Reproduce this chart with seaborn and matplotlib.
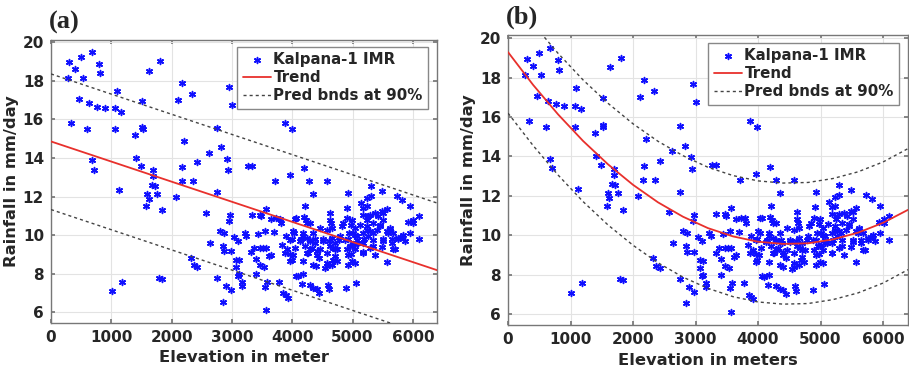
import numpy as np
import pandas as pd
import seaborn as sns
import matplotlib
matplotlib.use("Agg")
import matplotlib.pyplot as plt

# observed points (elevation in m, rainfall in mm/day), same set used in both panels
elevation = [
    305, 277, 393, 499, 676, 792, 809, 526, 460, 332, 637, 604, 765, 898, 1064, 1092, 1163, 1064,
    676, 709, 1125, 1014, 1180, 1512, 1512, 1525, 1385, 1413, 1485, 1629, 1806, 1690, 1690, 1668,
    1717, 1596, 1623, 1579, 1756, 1834, 1789, 1845, 2078, 2105, 2177, 2200, 2343, 2177, 2166, 2355,
    2427, 2620, 2576, 2632, 2316, 2371, 2427, 2759, 2825, 2925, 2936, 2759, 2953, 3003, 2753, 2853,
    2898, 2981, 2975, 2953, 2798, 2870, 2853, 2870, 2981, 3036, 3102, 3075, 3114, 3075, 3119, 3102,
    3169, 3175, 3269, 3335, 3213, 3241, 3324, 3374, 3435, 3407, 3468, 3407, 3335, 3474, 3485, 3546,
    3518, 3474, 3562, 3535, 3546, 3585, 3573, 3573, 3712, 3640, 3695, 3729, 3646, 3618, 3795, 3812,
    3778, 3834, 3850, 3895, 3922, 3878, 3989, 3961, 3889, 3917, 3961, 3989, 4006, 4028, 3989, 4039,
    4061, 4100, 4155, 4183, 4199, 4211, 4199, 4227, 4282, 4349, 4288, 4183, 4238, 4144, 4288, 4371,
    4299, 4260, 4404, 4449, 4393, 4288, 4349, 4404, 4449, 4543, 4582, 4582, 4626, 4626, 4654, 4571,
    4515, 4615, 4670, 4681, 4654, 4598, 4615, 4709, 4748, 4781, 4792, 4848, 4903, 4914, 4931, 4886,
    4931, 4970, 4959, 4931, 4947, 4970, 5042, 5058, 5014, 5069, 5097, 5136, 5180, 5197, 5180, 5235,
    5235, 5247, 5235, 5263, 5302, 5302, 5291, 5335, 5346, 5374, 5429, 5457, 5485, 5512, 5568, 5568,
    5512, 5485, 5596, 5623, 5651, 5706, 5734, 5817, 5956, 5928, 6011, 6094, 5956, 6094, 5817, 5873,
    5762,
    4060, 4238, 4637, 4986, 4820, 4459, 4348, 4182, 3961, 4127, 4293, 4376, 4515, 4653, 4709, 4875,
    5041, 4044, 4210, 4321, 4459, 4625, 4903, 5069, 3877, 4015, 4238, 4404, 4570, 4709, 4929, 3961,
    4182, 4348, 4570, 4737, 4986,
    5179, 5262, 5373, 5484, 5512, 5456, 5345, 5235, 5124, 5041, 5013, 5179, 5290, 5401, 5567, 5677,
    5622, 5760, 5843, 6010, 5069, 5179, 5345, 5512, 5650, 5041, 5179, 5290, 5677, 4986,
]
rainfall = [
    18.97, 18.14, 18.60, 19.24, 19.50, 18.88, 18.41, 18.14, 17.05, 15.81, 16.83, 15.50, 16.66, 16.57,
    16.57, 17.48, 16.40, 15.50, 13.88, 13.40, 12.36, 7.09, 7.55, 16.97, 15.60, 15.50, 15.17, 14.00,
    13.59, 18.53, 19.02, 13.36, 13.05, 12.62, 12.57, 12.16, 11.90, 11.50, 12.16, 11.29, 7.79, 7.71,
    11.98, 17.02, 17.88, 14.90, 17.31, 13.53, 12.83, 12.79, 13.79, 14.26, 11.16, 9.62, 8.83, 8.43,
    8.34, 15.57, 14.55, 13.95, 13.36, 12.22, 17.67, 16.76, 7.79, 6.55, 7.36, 7.14, 11.05, 10.74,
    10.24, 10.12, 9.43, 9.17, 9.17, 9.90, 9.69, 8.74, 8.69, 8.34, 8.00, 7.91, 7.59, 7.36, 13.57,
    13.57, 10.12, 9.95, 9.12, 9.34, 10.07, 8.78, 8.45, 8.00, 11.07, 11.07, 10.98, 10.21, 9.34, 9.34,
    9.34, 8.34, 7.33, 7.57, 11.36, 6.10, 12.83, 10.84, 10.17, 10.90, 9.00, 8.91, 10.86, 10.64, 7.57,
    9.48, 6.98, 6.88, 6.76, 15.81, 15.52, 13.10, 9.95, 9.26, 9.03, 8.74, 10.24, 10.12, 9.81, 10.86,
    7.91, 7.88, 7.45, 8.00, 13.48, 11.50, 10.95, 10.78, 12.79, 12.14, 10.64, 10.12, 9.86, 9.78, 9.69,
    9.78, 9.26, 9.09, 9.17, 8.83, 8.40, 7.40, 7.28, 7.22, 7.02, 8.31, 8.40, 12.83, 11.16, 10.81,
    10.38, 10.29, 9.78, 9.69, 9.34, 8.74, 8.48, 7.40, 7.19, 9.26, 9.26, 9.74, 9.95, 10.64, 10.90,
    11.41, 12.19, 7.24, 8.48, 9.05, 9.43, 9.78, 10.12, 10.55, 8.57, 7.53, 9.52, 9.95, 9.60, 11.67,
    11.41, 9.78, 9.12, 11.93, 11.50, 10.81, 10.29, 9.95, 12.53, 12.02, 11.07, 10.12, 9.43, 9.00,
    10.98, 10.47, 12.28, 11.17, 11.38, 8.62, 9.78, 9.40, 10.12, 10.29, 9.78, 9.26, 12.02, 11.84,
    11.50, 10.67, 10.81, 10.98, 10.12, 9.78, 9.91, 9.69, 9.78,
    10.90, 10.64, 10.64, 10.81, 10.46, 10.38, 10.12, 9.94, 9.77, 9.68, 9.77, 9.60, 9.68, 9.86, 9.60,
    9.77, 10.03, 9.34, 9.43, 9.34, 9.26, 9.43, 9.26, 9.60, 9.08, 9.00, 9.08, 9.00, 9.08, 8.91, 9.00,
    8.65, 8.65, 8.48, 8.57, 8.65, 8.65,
    11.07, 10.98, 11.15, 11.24, 10.81, 10.55, 10.64, 10.46, 10.55, 10.38, 10.12, 10.12, 10.20, 10.29,
    10.20, 10.12, 10.38, 9.86, 10.03, 10.64, 9.77, 9.60, 9.77, 9.68, 9.60, 9.26, 9.08, 9.34, 9.26,
    9.43,
]

# panel (a): linear fit and 90% prediction bounds, read at both ends
lin_x = [0, 6400]
lin_trend = [14.86, 8.19]
lin_upper = [18.36, 11.67]
lin_lower = [11.33, 4.64]

# panel (b): quadratic fit and 90% prediction bounds, read every 400 m
quad_x = [0, 400, 800, 1200, 1600, 2000, 2400, 2800, 3200, 3600, 4000, 4400, 4800, 5200, 5600, 6000, 6400]
quad_trend = [19.30, 17.64, 16.14, 14.79, 13.60, 12.56, 11.67, 10.94, 10.36, 9.94, 9.67, 9.56, 9.59,
              9.79, 10.13, 10.63, 11.29]
quad_upper = [22.40, 20.74, 19.24, 17.89, 16.70, 15.66, 14.77, 14.04, 13.45, 13.03, 12.76, 12.65,
              12.68, 12.88, 13.22, 13.72, 14.40]
quad_lower = [16.20, 14.56, 13.06, 11.71, 10.52, 9.49, 8.60, 7.87, 7.30, 6.88, 6.61, 6.50, 6.53,
              6.73, 7.07, 7.57, 8.25]

pts = pd.DataFrame({'elev': elevation, 'rain': rainfall})

sns.set_theme(style='ticks')
plt.rcParams['font.family'] = ['DejaVu Sans']
plt.rcParams['font.weight'] = 'bold'

fig = plt.figure(figsize=(9.09, 3.74), dpi=100)
ax_a = fig.add_axes([0.0561, 0.1364, 0.4246, 0.7567])
ax_b = fig.add_axes([0.5589, 0.1310, 0.4400, 0.7754])


def draw_panel(ax, fx, trend, upper, lower, xlabel, tag, ylim, legend_anchor):
    sns.scatterplot(data=pts, x='elev', y='rain', ax=ax, marker=(6, 2, 0), s=18,
                    color='#1010ff', edgecolor='#1010ff', linewidth=1.1,
                    label='Kalpana-1 IMR', zorder=3)
    sns.lineplot(x=fx, y=trend, ax=ax, color='#e8302c', linewidth=1.3, label='Trend',
                 sort=False, zorder=4)
    sns.lineplot(x=fx, y=upper, ax=ax, color='#444444', linewidth=1.0, linestyle=(0, (2.2, 2.2)),
                 label='Pred bnds at 90%', sort=False, zorder=4)
    sns.lineplot(x=fx, y=lower, ax=ax, color='#444444', linewidth=1.0, linestyle=(0, (2.2, 2.2)),
                 sort=False, zorder=4)

    ax.set_xlim(0, 6400)
    ax.set_ylim(*ylim)
    ax.set_xticks(range(0, 7000, 1000))
    ax.set_yticks(range(6, 21, 2))
    ax.grid(True, color='#e3e3e3', linewidth=0.8)
    ax.tick_params(direction='in', top=True, right=True, length=3, color='#777777',
                   labelsize=11, pad=5)
    for lab in ax.get_xticklabels() + ax.get_yticklabels():
        lab.set_fontweight('bold')
    for sp in ax.spines.values():
        sp.set_visible(True)
        sp.set_color('#777777')
        sp.set_linewidth(1.0)
    ax.set_xlabel(xlabel, fontsize=11.8, fontweight='bold', labelpad=4)
    ax.set_ylabel('Rainfall in mm/day', fontsize=11.8, fontweight='bold', labelpad=3)

    handles, labels = ax.get_legend_handles_labels()
    leg = ax.legend(handles[:3], labels[:3], loc='upper right', bbox_to_anchor=legend_anchor,
                    borderaxespad=0, fancybox=False, framealpha=1, edgecolor='#888888',
                    prop={'weight': 'bold', 'size': 10.8}, handlelength=1.9, handletextpad=0.15,
                    labelspacing=0.2, borderpad=0.35)
    leg.get_frame().set_linewidth(1.0)

    ax.text(-0.005, 1.02, tag, transform=ax.transAxes, fontsize=19, fontweight='bold',
            family='Liberation Serif', ha='left', va='bottom')


draw_panel(ax_a, lin_x, lin_trend, lin_upper, lin_lower, 'Elevation in meter', '(a)',
           (5.45, 20.12), (0.977, 0.975))
draw_panel(ax_b, quad_x, quad_trend, quad_upper, quad_lower, 'Elevation in meters', '(b)',
           (5.44, 20.17), (0.9775, 0.972))

fig.savefig('out.png', dpi=100)
plt.close(fig)
